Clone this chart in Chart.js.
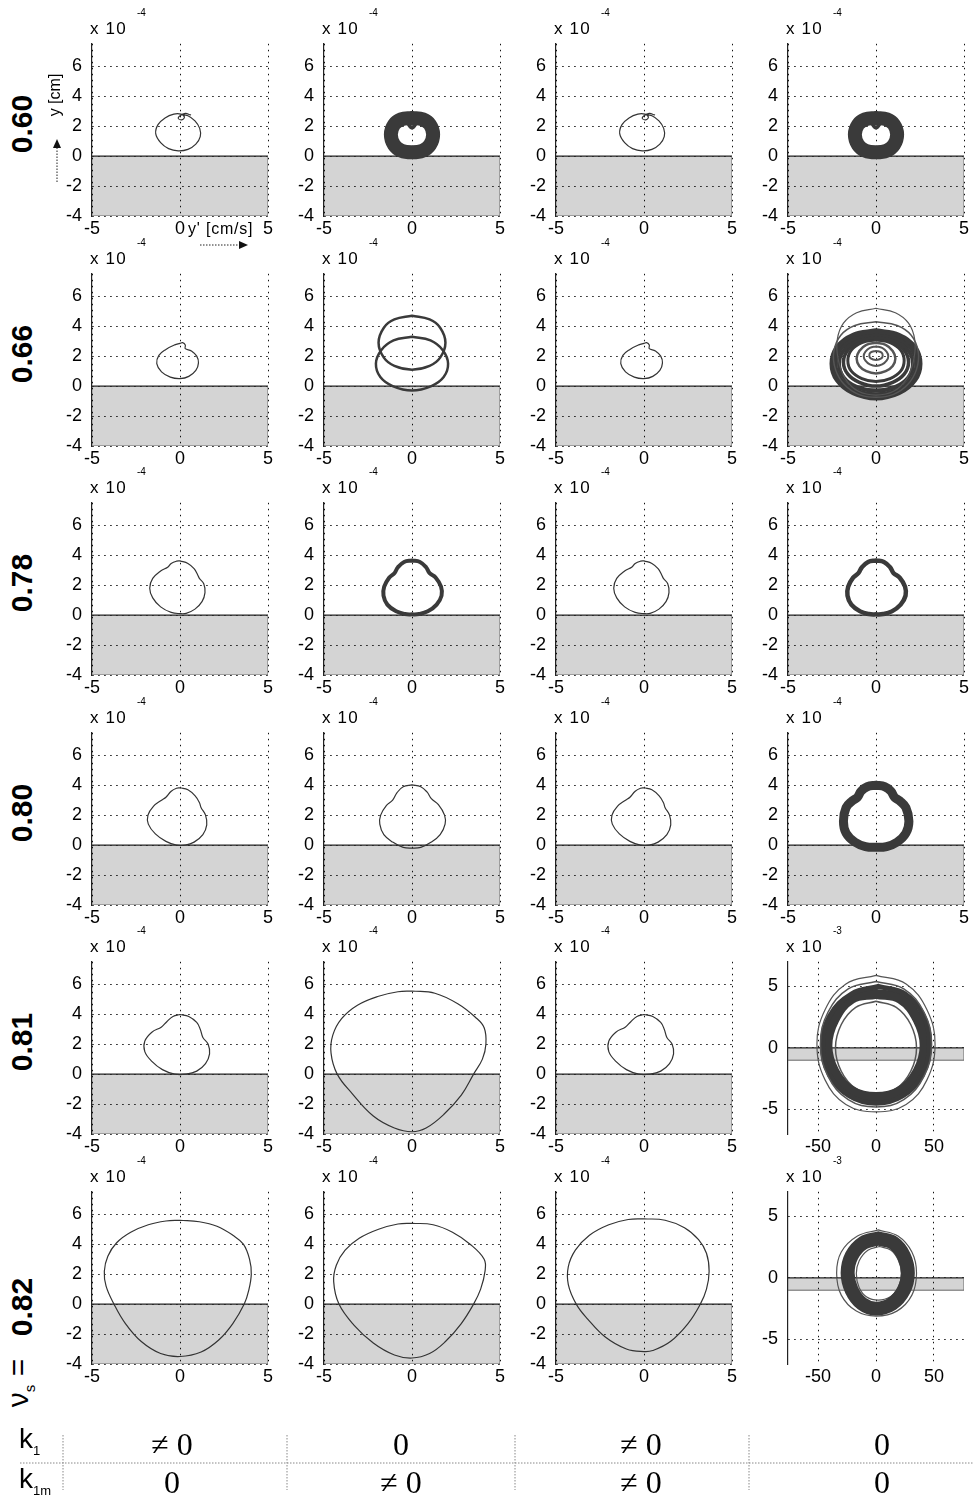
<!DOCTYPE html>
<html>
<head>
<meta charset="utf-8">
<script src="https://cdn.jsdelivr.net/npm/chart.js@4.4.1/dist/chart.umd.min.js"></script>
<style>
  body { margin: 0; background: #fff; }
  #fig { position: relative; width: 974px; height: 1504px; overflow: hidden; background: #fff;
         font-family: 'Liberation Sans', Arial, sans-serif; color: #000; }
  #fig canvas { position: absolute; }
  .t { position: absolute; white-space: nowrap; }
  .rot { transform: translate(-50%, -50%) rotate(-90deg); }
</style>
</head>
<body>
<div id="fig"></div>
<script>
// ---- axes (values in units of the printed exponent) ----
const xTicksSmall = [-5, 0, 5];
const yTicksSmall = [-4, -2, 0, 2, 4, 6];
const xRangeSmall = [-5, 5];
const yRangeSmall = [-4, 7.5];
const shadeSmall = [-4, 0];
const xTicksLarge = [-50, 0, 50];
const yTicksLarge = [-5, 0, 5];
const xRangeLarge = [-76, 76];
const yRangeLarge = [-7, 7];
const shadeLarge = [-1, 0];

const rowLabels = ['0.60', '0.66', '0.78', '0.80', '0.81', '0.82'];
const k1Values = ['≠ 0', '0', '≠ 0', '0'];
const k1mValues = ['0', '≠ 0', '≠ 0', '0'];

// ---- trajectories: [y', y] ----
const loop060 = [[0,2.8],[0.45,2.7],[0.85,2.35],[1.12,1.85],[1.15,1.3],[0.9,0.8],[0.45,0.45],[-0.1,0.35],[-0.65,0.5],[-1.1,0.9],[-1.38,1.5],[-1.25,2.1],[-0.85,2.55],[-0.35,2.8],[0.05,2.8],[0.25,2.6],[0.1,2.42],[-0.1,2.52],[0,2.7],[0.3,2.85],[0.6,2.75]];
const ring060 = [[0,2.55],[0.62,2.45],[1.02,2.1],[1.2,1.45],[1.02,0.75],[0.6,0.36],[0,0.26],[-0.6,0.36],[-1.02,0.75],[-1.2,1.45],[-1.02,2.1],[-0.62,2.45],[0,2.55]];
const notch060 = [[-0.3,2.35],[0,1.9],[0.3,2.35]];

const hook066 = [[0,2.85],[0.15,2.9],[0.3,2.75],[0.3,2.5],[0.65,2.35],[0.95,2.0],[1.05,1.55],[0.9,1.05],[0.5,0.65],[0,0.5],[-0.55,0.6],[-1.05,0.95],[-1.32,1.5],[-1.2,2.05],[-0.8,2.45],[-0.3,2.75],[0,2.85]];
const upper066 = [[0,4.7],[1.0,4.45],[1.6,3.9],[1.9,2.9],[1.6,1.9],[1.0,1.35],[0,1.1],[-1.0,1.35],[-1.6,1.9],[-1.9,2.9],[-1.6,3.9],[-1.0,4.45],[0,4.7]];
const lower066 = [[0,3.3],[1.05,3.05],[1.75,2.4],[2.05,1.5],[1.8,0.6],[1.1,0.0],[0,-0.3],[-1.1,0.0],[-1.8,0.6],[-2.05,1.5],[-1.75,2.4],[-1.05,3.05],[0,3.3]];
const swirlA066 = [[0,5.2],[1.1,4.9],[1.85,4.2],[2.2,3.1],[2.15,1.8],[1.75,0.5],[1.0,-0.35],[0,-0.6],[-1.0,-0.35],[-1.75,0.5],[-2.15,1.8],[-2.2,3.1],[-1.85,4.2],[-1.1,4.9],[0,5.2]];
const swirlB066 = [[0,4.3],[1.2,4.05],[2.0,3.4],[2.4,2.3],[2.3,1.1],[1.8,0.1],[1.0,-0.55],[0,-0.75],[-1.0,-0.55],[-1.8,0.1],[-2.3,1.1],[-2.4,2.3],[-2.0,3.4],[-1.2,4.05],[0,4.3]];
const swirlC066 = [[0,3.7],[1.3,3.4],[2.2,2.6],[2.5,1.5],[2.2,0.4],[1.3,-0.45],[0,-0.8],[-1.3,-0.45],[-2.2,0.4],[-2.5,1.5],[-2.2,2.6],[-1.3,3.4],[0,3.7]];
const swirlCD066 = [[0,3.5],[1.2,3.2],[2.0,2.5],[2.3,1.5],[2.0,0.45],[1.2,-0.25],[0,-0.55],[-1.2,-0.25],[-2.0,0.45],[-2.3,1.5],[-2.0,2.5],[-1.2,3.2],[0,3.5]];
const swirlD066 = [[0,3.3],[1.1,3.05],[1.85,2.35],[2.1,1.5],[1.85,0.6],[1.1,-0.05],[0,-0.3],[-1.1,-0.05],[-1.85,0.6],[-2.1,1.5],[-1.85,2.35],[-1.1,3.05],[0,3.3]];
const swirlDE066 = [[0,3.2],[0.95,2.95],[1.6,2.4],[1.85,1.6],[1.6,0.8],[0.95,0.25],[0,0.0],[-0.95,0.25],[-1.6,0.8],[-1.85,1.6],[-1.6,2.4],[-0.95,2.95],[0,3.2]];
const swirlE066 = [[0,3.1],[0.8,2.9],[1.4,2.4],[1.6,1.7],[1.4,1.0],[0.8,0.5],[0,0.3],[-0.8,0.5],[-1.4,1.0],[-1.6,1.7],[-1.4,2.4],[-0.8,2.9],[0,3.1]];
const swirlF066 = [[0,2.9],[0.55,2.75],[0.95,2.35],[1.1,1.85],[0.95,1.35],[0.55,1.0],[0,0.85],[-0.55,1.0],[-0.95,1.35],[-1.1,1.85],[-0.95,2.35],[-0.55,2.75],[0,2.9]];
const swirlG066 = [[0,2.65],[0.35,2.55],[0.6,2.3],[0.7,2.0],[0.6,1.7],[0.35,1.45],[0,1.35],[-0.35,1.45],[-0.6,1.7],[-0.7,2.0],[-0.6,2.3],[-0.35,2.55],[0,2.65]];
const swirlH066 = [[0,2.35],[0.3,2.25],[0.38,2.05],[0.3,1.85],[0,1.75],[-0.3,1.85],[-0.38,2.05],[-0.3,2.25],[0,2.35]];

const kidney078 = [[0,3.62],[0.45,3.45],[0.8,3.1],[1.0,2.7],[1.1,2.45],[1.35,2.1],[1.42,1.5],[1.25,0.9],[0.85,0.4],[0.35,0.12],[0,0.1],[-0.5,0.18],[-1.1,0.55],[-1.55,1.15],[-1.72,1.8],[-1.55,2.45],[-1.1,2.95],[-0.7,3.2],[-0.5,3.45],[-0.2,3.6],[0,3.62]];
const clover078 = [[0,3.65],[0.45,3.55],[0.8,3.2],[1.0,2.8],[1.35,2.5],[1.65,1.9],[1.68,1.3],[1.4,0.7],[0.9,0.25],[0.4,0.07],[0,0.05],[-0.4,0.07],[-0.9,0.25],[-1.4,0.7],[-1.62,1.3],[-1.58,1.9],[-1.3,2.5],[-1.0,2.8],[-0.8,3.2],[-0.45,3.55],[0,3.65]];

const kidney080 = [[0,3.83],[0.45,3.7],[0.85,3.3],[1.1,2.85],[1.2,2.5],[1.45,2.0],[1.52,1.35],[1.3,0.7],[0.8,0.2],[0.3,0.0],[-0.2,0.0],[-0.8,0.25],[-1.4,0.75],[-1.8,1.4],[-1.82,2.0],[-1.5,2.6],[-1.05,3.0],[-0.8,3.2],[-0.5,3.6],[-0.2,3.8],[0,3.83]];
const cloverThin080 = [[0,4.02],[0.5,3.9],[0.85,3.55],[1.1,3.1],[1.5,2.7],[1.85,2.0],[1.88,1.4],[1.6,0.7],[1.1,0.2],[0.5,-0.15],[0,-0.2],[-0.5,-0.15],[-1.1,0.2],[-1.6,0.7],[-1.83,1.4],[-1.78,2.0],[-1.45,2.65],[-1.1,3.0],[-0.85,3.5],[-0.5,3.9],[0,4.02]];
const cloverThick080 = [[0,4.0],[0.5,3.9],[0.85,3.6],[1.05,3.2],[1.35,2.95],[1.7,2.5],[1.87,1.6],[1.7,0.8],[1.2,0.2],[0.6,-0.1],[0,-0.15],[-0.6,-0.1],[-1.2,0.2],[-1.7,0.8],[-1.85,1.6],[-1.7,2.5],[-1.35,2.95],[-1.05,3.2],[-0.85,3.6],[-0.5,3.9],[0,4.0]];

const kidney081 = [[0,3.98],[0.5,3.85],[0.95,3.45],[1.15,3.0],[1.3,2.45],[1.6,2.0],[1.68,1.35],[1.45,0.7],[0.95,0.2],[0.35,0.0],[-0.3,0.0],[-1.0,0.3],[-1.6,0.85],[-2.0,1.5],[-2.0,2.2],[-1.6,2.8],[-1.05,3.15],[-0.75,3.5],[-0.4,3.85],[0,3.98]];
const pear081 = [[0,5.55],[1.3,5.4],[2.6,4.7],[3.6,3.8],[4.1,3.1],[4.2,2.0],[4.0,1.0],[3.5,0],[2.8,-1.4],[1.8,-2.7],[0.8,-3.6],[0,-3.85],[-1.0,-3.6],[-2.2,-2.8],[-3.4,-1.3],[-4.25,0],[-4.6,1.4],[-4.5,2.6],[-4.0,3.7],[-3.1,4.6],[-1.9,5.2],[-0.8,5.5],[0,5.55]];
const ringMain081 = [[0,4.4],[21,4.0],[36,2.3],[42,0.2],[36,-1.9],[21,-3.5],[0,-4.0],[-21,-3.5],[-36,-1.9],[-42,0.2],[-36,2.3],[-21,4.0],[0,4.4]];
const ringDense081 = [[2,5.0],[25,4.4],[41,2.6],[46,0.2],[40,-2.2],[23,-3.9],[0,-4.5],[-23,-3.9],[-40,-2.2],[-46,0.2],[-40,2.6],[-21,4.4],[2,5.0]];
const ringOuterA081 = [[0,5.9],[26,5.2],[44,3.1],[51,0.3],[44,-2.6],[26,-4.6],[0,-5.2],[-26,-4.6],[-44,-2.6],[-51,0.3],[-44,3.1],[-26,5.2],[0,5.9]];
const ringOuterB081 = [[0,5.4],[24,4.8],[41.5,2.9],[48,0.3],[41.5,-2.3],[24,-4.2],[0,-4.8],[-24,-4.2],[-41.5,-2.3],[-48,0.3],[-41.5,2.9],[-24,4.8],[0,5.4]];
const ringInner081 = [[0,3.8],[17.5,3.3],[30,1.9],[35,0],[30,-1.9],[17.5,-3.3],[0,-3.8],[-17.5,-3.3],[-30,-1.9],[-35,0],[-30,1.9],[-17.5,3.3],[0,3.8]];

const pearA082 = [[0,5.6],[1.1,5.5],[2.1,5.2],[3.0,4.6],[3.6,4.0],[3.95,3.0],[4.05,2.0],[3.9,0.9],[3.65,0],[3.0,-1.3],[2.2,-2.4],[1.2,-3.2],[0,-3.5],[-1.1,-3.3],[-2.2,-2.5],[-3.1,-1.3],[-3.75,0],[-4.2,1.2],[-4.3,2.2],[-4.1,3.2],[-3.6,4.1],[-2.8,4.8],[-1.8,5.3],[-0.8,5.55],[0,5.6]];
const pearB082 = [[0,5.4],[1.2,5.3],[2.3,4.8],[3.3,4.0],[4.1,3.0],[4.15,2.2],[3.9,1.0],[3.5,0],[2.8,-1.3],[1.9,-2.5],[1.0,-3.3],[0,-3.6],[-1.0,-3.4],[-2.2,-2.6],[-3.3,-1.4],[-4.15,0],[-4.45,1.5],[-4.3,2.6],[-3.8,3.6],[-3.0,4.4],[-1.9,5.0],[-0.8,5.35],[0,5.4]];
const pearC082 = [[0,5.7],[1.2,5.6],[2.3,5.1],[3.1,4.3],[3.55,3.4],[3.7,2.2],[3.55,1.0],[3.2,0],[2.5,-1.3],[1.5,-2.5],[0.5,-3.1],[0,-3.17],[-1.0,-3.0],[-2.2,-2.2],[-3.2,-1.0],[-3.85,0],[-4.3,1.3],[-4.3,2.5],[-3.9,3.6],[-3.1,4.6],[-2.0,5.3],[-0.9,5.65],[0,5.7]];
const ringMain082 = [[2,3.2],[15,2.85],[24,1.8],[27.5,0.4],[24,-1.0],[14,-2.1],[0,-2.5],[-12,-2.1],[-21,-1.0],[-24.5,0.4],[-21,1.8],[-11,2.85],[2,3.2]];
const ringOuter082 = [[2,3.9],[19,3.4],[31,2.1],[35,0.4],[31,-1.4],[18,-2.7],[0,-3.1],[-17,-2.7],[-30,-1.4],[-34,0.4],[-30,2.1],[-16,3.4],[2,3.9]];
const ringInner082 = [[3,2.55],[13,2.25],[19.5,1.4],[22,0.35],[19,-0.8],[12,-1.55],[2,-1.8],[-8,-1.55],[-14.5,-0.8],[-17,0.35],[-14.5,1.4],[-7,2.25],[3,2.55]];

const thin = (pts) => ({ pts, w: 1.2, color: '#333' });
const heavy = (pts, w) => ({ pts, w, color: '#3a3a3a' });
const faint = (pts, w) => ({ pts, w, color: '#555' });

const swirl066 = [faint(swirlA066, 1.2), faint(swirlB066, 1.5), heavy(swirlC066, 5), heavy(swirlCD066, 4),
                  heavy(swirlD066, 4), heavy(swirlDE066, 3.5), heavy(swirlE066, 3), faint(swirlF066, 2.5),
                  faint(swirlG066, 2), faint(swirlH066, 2)];
const rings081 = [faint(ringOuterA081, 1.2), faint(ringOuterB081, 1.5), heavy(ringDense081, 5),
                  heavy(ringMain081, 10), faint(ringInner081, 1.5)];
const rings082 = [faint(ringOuter082, 1.2), heavy(ringMain082, 14), faint(ringInner082, 1.2)];

const panels = [
  [{ curves: [thin(loop060)] }, { curves: [heavy(ring060, 14), heavy(notch060, 4)] },
   { curves: [thin(loop060)] }, { curves: [heavy(ring060, 14), heavy(notch060, 4)] }],
  [{ curves: [thin(hook066)] }, { curves: [heavy(upper066, 2.5), heavy(lower066, 2.5)] },
   { curves: [thin(hook066)] }, { curves: swirl066 }],
  [{ curves: [thin(kidney078)] }, { curves: [heavy(clover078, 4)] },
   { curves: [thin(kidney078)] }, { curves: [heavy(clover078, 4.5)] }],
  [{ curves: [thin(kidney080)] }, { curves: [thin(cloverThin080)] },
   { curves: [thin(kidney080)] }, { curves: [heavy(cloverThick080, 9)] }],
  [{ curves: [thin(kidney081)] }, { curves: [thin(pear081)] },
   { curves: [thin(kidney081)] }, { curves: rings081, large: true }],
  [{ curves: [thin(pearA082)] }, { curves: [thin(pearB082)] },
   { curves: [thin(pearC082)] }, { curves: rings082, large: true }]
];

const FONT = "'Liberation Sans', Arial, sans-serif";
const fig = document.getElementById('fig');

function addText(html, css, cls) {
  const d = document.createElement('div');
  d.className = 't' + (cls ? ' ' + cls : '');
  d.innerHTML = html;
  Object.assign(d.style, css);
  fig.appendChild(d);
  return d;
}

function makePanel(row, col, panel) {
  const big = !!panel.large;
  const xr = big ? xRangeLarge : xRangeSmall;
  const yr = big ? yRangeLarge : yRangeSmall;
  const xt = big ? xTicksLarge : xTicksSmall;
  const yt = big ? yTicksLarge : yTicksSmall;
  const sh = big ? shadeLarge : shadeSmall;

  const plotLeft = 92 + 232 * col;
  const plotTop = Math.round(43 + 229.5 * row);

  const canvas = document.createElement('canvas');
  canvas.width = 228; canvas.height = 221;
  canvas.style.left = (plotLeft - 40) + 'px';
  canvas.style.top = (plotTop - 20) + 'px';
  fig.appendChild(canvas);

  const datasets = [
    { data: [{ x: xr[0], y: sh[1] }, { x: xr[1], y: sh[1] }], showLine: true, tension: 0,
      borderColor: '#222', borderWidth: 1.2, fill: { value: sh[0] },
      backgroundColor: 'rgba(0,0,0,0.17)', pointRadius: 0, order: 10 },
    { data: [{ x: xr[0], y: sh[0] }, { x: xr[1], y: sh[0] }, { x: xr[1], y: sh[1] }], showLine: true,
      tension: 0, borderColor: '#666', borderWidth: 1, fill: false, pointRadius: 0, order: 9 }
  ];
  panel.curves.forEach(c => {
    datasets.push({
      data: c.pts.map(p => ({ x: p[0], y: p[1] })),
      showLine: true, tension: 0.4, fill: false, pointRadius: 0,
      borderColor: c.color, borderWidth: c.w, borderJoinStyle: 'round', borderCapStyle: 'round', order: 0
    });
  });

  const tickFont = { family: FONT, size: 18 };
  new Chart(canvas, {
    type: 'scatter',
    data: { datasets },
    options: {
      responsive: false, animation: false, devicePixelRatio: 1,
      layout: { padding: { top: 20, right: 12, left: 0, bottom: 0 } },
      plugins: { legend: { display: false }, tooltip: { enabled: false } },
      scales: {
        x: {
          type: 'linear', min: xr[0], max: xr[1],
          afterBuildTicks: s => { s.ticks = xt.map(v => ({ value: v })); },
          afterFit: s => { s.height = 28; },
          ticks: { color: '#000', font: tickFont, padding: 2, maxRotation: 0, autoSkip: false },
          grid: { color: '#111', lineWidth: 1, drawTicks: false },
          border: { display: false, dash: [1.5, 4.5] }
        },
        y: {
          type: 'linear', min: yr[0], max: yr[1],
          afterBuildTicks: s => { s.ticks = yt.map(v => ({ value: v })); },
          afterFit: s => { s.width = 40; },
          ticks: { color: '#000', font: tickFont, padding: 10, autoSkip: false },
          grid: { color: '#111', lineWidth: 1, drawTicks: false },
          border: { display: true, color: '#222', width: 1.2, dash: [1.5, 4.5] }
        }
      }
    }
  });

  // exponent label above the y axis
  addText('x 10', { left: (plotLeft - 2) + 'px', top: (plotTop - 22) + 'px',
    fontSize: '17px', lineHeight: '16px', letterSpacing: '1.2px' });
  addText(big ? '-3' : '-4', { left: (plotLeft + 45) + 'px', top: (plotTop - 35) + 'px',
    fontSize: '10px', lineHeight: '10px' });
}

panels.forEach((r, row) => r.forEach((p, col) => makePanel(row, col, p)));

// row labels (nu_s values)
rowLabels.forEach((txt, i) => {
  const cy = i < 5 ? 124 + 229.5 * i : 1307;
  addText(txt, { left: '22px', top: cy + 'px', fontSize: '30px', fontWeight: 'bold', lineHeight: '30px' }, 'rot');
});
addText('ν<sub style="font-size:15px">s</sub> =', { left: '24px', top: '1383px', fontSize: '30px', lineHeight: '30px' }, 'rot');

// axis names in the first panel
addText('y [cm]', { left: '55px', top: '95px', fontSize: '16px', lineHeight: '16px' }, 'rot');
addText("y' [cm/s]", { left: '188px', top: '221px', fontSize: '16px', lineHeight: '16px', letterSpacing: '0.8px' });

// arrows and table rules
const svgNS = 'http://www.w3.org/2000/svg';
const svg = document.createElementNS(svgNS, 'svg');
svg.setAttribute('width', 974); svg.setAttribute('height', 1504);
svg.style.position = 'absolute'; svg.style.left = '0'; svg.style.top = '0';
svg.innerHTML =
  '<line x1="57" y1="182" x2="57" y2="147" stroke="#222" stroke-width="1" stroke-dasharray="1.5,1.5"/>' +
  '<polygon points="57,139 53,148 61,148" fill="#111"/>' +
  '<line x1="200" y1="245" x2="240" y2="245" stroke="#222" stroke-width="1" stroke-dasharray="1.5,1.5"/>' +
  '<polygon points="248,245 239,241 239,249" fill="#111"/>' +
  '<line x1="20" y1="1463" x2="974" y2="1463" stroke="#888" stroke-width="1" stroke-dasharray="1.5,1.5"/>' +
  [63, 287, 515, 749].map(x =>
    '<line x1="' + x + '" y1="1435" x2="' + x + '" y2="1490" stroke="#888" stroke-width="1" stroke-dasharray="1.5,1.5"/>').join('');
fig.appendChild(svg);

// parameter table
addText('k<sub style="font-size:13px">1</sub>', { left: '19px', top: '1424px', fontSize: '28px', lineHeight: '30px' });
addText('k<sub style="font-size:13px">1m</sub>', { left: '19px', top: '1464px', fontSize: '28px', lineHeight: '30px' });
const colCenters = [172, 401, 641, 882];
k1Values.forEach((v, i) => addText(v, { left: colCenters[i] + 'px', top: '1444px', fontSize: '32px', lineHeight: '32px',
  fontFamily: "'Liberation Serif', 'Times New Roman', serif", transform: 'translate(-50%,-50%)' }));
k1mValues.forEach((v, i) => addText(v, { left: colCenters[i] + 'px', top: '1482px', fontSize: '32px', lineHeight: '32px',
  fontFamily: "'Liberation Serif', 'Times New Roman', serif", transform: 'translate(-50%,-50%)' }));
</script>
</body>
</html>
